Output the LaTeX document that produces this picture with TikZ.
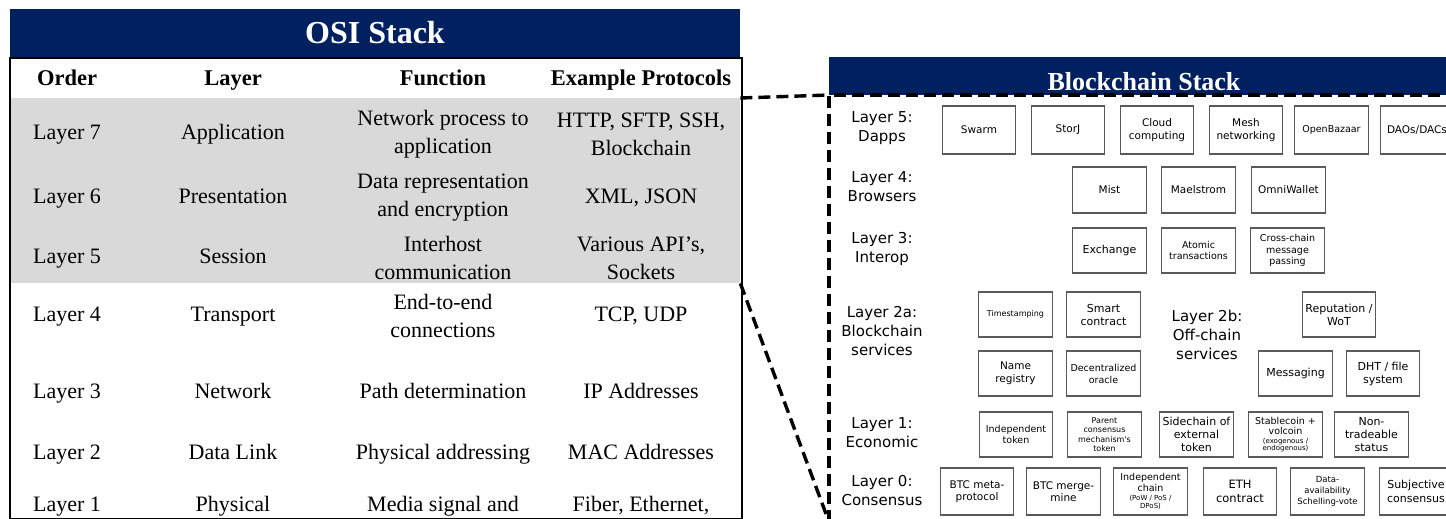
\documentclass[tikz,border=0pt]{standalone}
\usepackage{fontspec}
\setmainfont{Liberation Serif}
\newfontfamily\bcfont{DejaVu Sans}
\newcommand\bxsize[2]{\fontsize{#1}{#2}\selectfont}
\definecolor{navy}{HTML}{002060}
\definecolor{band}{HTML}{D9D9D9}
\definecolor{boxline}{HTML}{5A5A5A}

\begin{document}
\begin{tikzpicture}[x=1pt,y=-1pt,
  banner/.style={fill=navy, inner sep=0pt, anchor=north west},
  bannertext/.style={text=white, inner sep=0pt},
  colhead/.style={font=\bfseries\bxsize{22.5}{28}, inner sep=0pt,
                  text height=15pt, text depth=5pt},
  cell/.style={font=\bxsize{22}{28}, align=center, inner sep=0pt},
  one/.style={text height=15pt, text depth=5pt},
  lvl/.style={font=\bcfont\bxsize{15}{19}, align=center, inner sep=0pt},
  bbox/.style={draw=boxline, line width=1.1pt, fill=white, align=center,
               inner sep=0pt, minimum width=73.5pt,
               font=\bcfont\bxsize{10.5}{12.5}},
  zoomline/.style={line width=3.4pt, dash pattern=on 12pt off 6pt},
]
\useasboundingbox (0,0) rectangle (1446,519);
\fill[white] (0,0) rectangle (1446,519);

% ---------------- OSI stack table ----------------
\node[banner, minimum width=730pt, minimum height=48pt] (osihead) at (10,9) {};
\node[bannertext, font=\bfseries\bxsize{32}{36}] (osititle) at (375,33) {OSI Stack};
\node[fill=band, inner sep=0pt, anchor=north west,
      minimum width=730pt, minimum height=185pt] (hl) at (10,98) {};
\node[draw, line width=1.8pt, inner sep=0pt, anchor=north west,
      minimum width=732pt, minimum height=461pt] (ositable) at (9,57) {};

\node[colhead] (hOrder) at (67,80)  {Order};
\node[colhead] (hLayer) at (233,80) {Layer};
\node[colhead] (hFunc)  at (443,80) {Function};
\node[colhead] (hProt)  at (641,80) {Example Protocols};

\node[cell,one] (o7) at (67,134)  {Layer 7};
\node[cell,one] (n7) at (233,134) {Application};
\node[cell] (f7) at (443,134) {Network process to\\application};
\node[cell] (p7) at (641,134) {HTTP, SFTP, SSH,\\Blockchain};

\node[cell,one] (o6) at (67,198)  {Layer 6};
\node[cell,one] (n6) at (233,198) {Presentation};
\node[cell] (f6) at (443,198) {Data representation\\and encryption};
\node[cell,one] (p6) at (641,198) {XML, JSON};

\node[cell,one] (o5) at (67,258)  {Layer 5};
\node[cell,one] (n5) at (233,258) {Session};
\node[cell] (f5) at (443,258) {Interhost\\communication};
\node[cell] (p5) at (641,258) {Various API's,\\Sockets};

\node[cell,one] (o4) at (67,316)  {Layer 4};
\node[cell,one] (n4) at (233,316) {Transport};
\node[cell] (f4) at (443,316) {End-to-end\\connections};
\node[cell,one] (p4) at (641,316) {TCP, UDP};

\node[cell,one] (o3) at (67,393)  {Layer 3};
\node[cell,one] (n3) at (233,393) {Network};
\node[cell,one] (f3) at (443,393) {Path determination};
\node[cell,one] (p3) at (641,393) {IP Addresses};

\node[cell,one] (o2) at (67,454)  {Layer 2};
\node[cell,one] (n2) at (233,454) {Data Link};
\node[cell,one] (f2) at (443,454) {Physical addressing};
\node[cell,one] (p2) at (641,454) {MAC Addresses};

\node[cell,one] (o1) at (67,506)  {Layer 1};
\node[cell,one] (n1) at (233,506) {Physical};
\node[cell,one] (f1) at (443,506) {Media signal and};
\node[cell,one] (p1) at (641,506) {Fiber, Ethernet,};

% ---------------- Blockchain stack ----------------
\node[banner, minimum width=620pt, minimum height=38pt] (bchead) at (829,57) {};
\node[bannertext, font=\bfseries\bxsize{26}{30}, text height=18pt, text depth=0pt,
      anchor=base] (bctitle) at (1144,90) {Blockchain Stack};

\coordinate (bcTL) at (829,95);
\coordinate (bcTR) at (1452,95);
\coordinate (bcBL) at (829,522);
\draw[zoomline] (bcBL) -- (bcTL) -- (bcTR);
\draw[zoomline] (hl.north east) -- (bcTL);
\draw[zoomline] (hl.south east) -- (bcBL);

% layer labels
\node[lvl] (l5)  at (882,128)  {Layer 5:\\Dapps};
\node[lvl] (l4)  at (882,187)  {Layer 4:\\Browsers};
\node[lvl] (l3)  at (882,249)  {Layer 3:\\Interop};
\node[lvl] (l2a) at (882,331)  {Layer 2a:\\Blockchain\\services};
\node[lvl] (l2b) at (1207,335) {Layer 2b:\\Off-chain\\services};
\node[lvl] (l1)  at (882,433)  {Layer 1:\\Economic};
\node[lvl] (l0)  at (882,491)  {Layer 0:\\Consensus};

% layer 5
\begin{scope}[every node/.append style={minimum height=48pt}]
\node[bbox] (swarm) at (979,130)    {Swarm};
\node[bbox] (storj) at (1068,130)   {StorJ};
\node[bbox] (cloud) at (1157,130)   {Cloud\\computing};
\node[bbox] (mesh)  at (1246,130)   {Mesh\\networking};
\node[bbox, font=\bcfont\bxsize{9.5}{11}] (obz) at (1331.5,130) {OpenBazaar};
\node[bbox] (daos)  at (1417,130)   {DAOs/DACs};
\end{scope}

% layer 4
\begin{scope}[every node/.append style={minimum height=46pt}]
\node[bbox] (mist)  at (1109.5,190) {Mist};
\node[bbox] (mael)  at (1198.5,190) {Maelstrom};
\node[bbox] (omni)  at (1288.5,190) {OmniWallet};
\end{scope}

% layer 3
\begin{scope}[every node/.append style={minimum height=45pt}]
\node[bbox, font=\bcfont\bxsize{11}{13}] (exch) at (1109.5,250.5) {Exchange};
\node[bbox, font=\bcfont\bxsize{9.5}{11.5}] (atomic) at (1198.5,250.5) {Atomic\\transactions};
\node[bbox, font=\bcfont\bxsize{9.5}{11.5}] (xchain) at (1287.5,250.5) {Cross-chain\\message\\passing};
\end{scope}

% layer 2a / 2b
\begin{scope}[every node/.append style={minimum height=45pt}]
\node[bbox, font=\bcfont\bxsize{8}{10}] (tstamp) at (1015.5,314.5) {Timestamping};
\node[bbox, font=\bcfont\bxsize{11}{13}] (smart) at (1103.5,314.5) {Smart\\contract};
\node[bbox, font=\bcfont\bxsize{11}{13}] (repu) at (1339,314.5) {Reputation /\\WoT};
\node[bbox, font=\bcfont\bxsize{10.5}{13}] (namereg) at (1015.5,373.5) {Name\\registry};
\node[bbox, font=\bcfont\bxsize{9.5}{12}] (oracle) at (1103.5,373.5) {Decentralized\\oracle};
\node[bbox, font=\bcfont\bxsize{11}{13}] (msg) at (1295.5,373.5) {Messaging};
\node[bbox, font=\bcfont\bxsize{11}{13}] (dht) at (1383,373.5) {DHT / file\\system};
\end{scope}

% layer 1
\begin{scope}[every node/.append style={minimum height=45pt}]
\node[bbox, font=\bcfont\bxsize{9.5}{11.5}] (indtok) at (1016,434.5) {Independent\\token};
\node[bbox, font=\bcfont\bxsize{8}{9.5}] (parent) at (1104.5,434.5) {Parent\\consensus\\mechanism's\\token};
\node[bbox, font=\bcfont\bxsize{11}{13}] (side) at (1196.5,434.5) {Sidechain of\\external\\token};
\node[bbox, font=\bcfont\bxsize{9.5}{10}] (stable) at (1285.5,434.5)
  {Stablecoin +\\volcoin\\[-1pt]{\bxsize{7}{8}(exogenous /}\\[-3pt]{\bxsize{7}{8}endogenous)}};
\node[bbox, font=\bcfont\bxsize{11}{13}] (nontrade) at (1371.5,434.5) {Non-\\tradeable\\status};
\end{scope}

% layer 0
\begin{scope}[every node/.append style={minimum height=47pt}]
\node[bbox] (btcmeta) at (977,491.5) {BTC meta-\\protocol};
\node[bbox] (btcmerge) at (1063.5,491.5) {BTC merge-\\mine};
\node[bbox, font=\bcfont\bxsize{9.5}{10.5}] (indchain) at (1150.5,491.5)
  {Independent\\chain\\[-1pt]{\bxsize{7}{8}(PoW / PoS /}\\[-3pt]{\bxsize{7}{8}DPoS)}};
\node[bbox, font=\bcfont\bxsize{11.5}{14}] (eth) at (1240,491.5) {ETH\\contract};
\node[bbox, font=\bcfont\bxsize{8.5}{11}] (davail) at (1327.5,491.5) {Data-\\availability\\Schelling-vote};
\node[bbox, font=\bcfont\bxsize{11}{13.5}] (subj) at (1416,491.5) {Subjective\\consensus};
\end{scope}
\end{tikzpicture}
\end{document}
